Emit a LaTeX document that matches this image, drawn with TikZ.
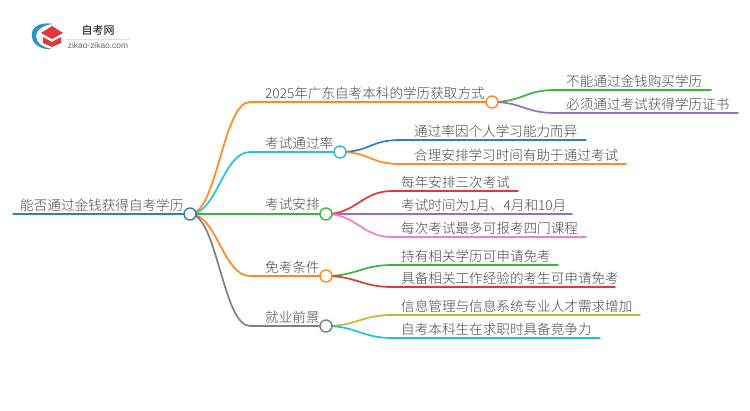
\documentclass[tikz,border=0pt]{standalone}
\usepackage{fontspec}
\setmainfont{Noto Sans CJK SC}[UprightFont=* Light,BoldFont=* Medium]
\setsansfont{Liberation Sans}
\definecolor{cblue}{HTML}{2F7FC1}
\definecolor{corange}{HTML}{FF8A1F}
\definecolor{ccyan}{HTML}{22C3D6}
\definecolor{cgreen}{HTML}{3DB43D}
\definecolor{cgray}{HTML}{808080}
\definecolor{cpurple}{HTML}{9B6BC8}
\definecolor{cred}{HTML}{E0393B}
\definecolor{cpink}{HTML}{EE82CC}
\definecolor{colive}{HTML}{BDBD2E}
\tikzset{
 x=1pt,y=-1pt,
 lbl/.style={font=\fontsize{13.6pt}{14pt}\selectfont,text=black!72,inner sep=0pt,anchor=base west},
 lnk/.style={line width=1.7pt,line cap=round},
 hub/.style={circle,draw,line width=1.4pt,fill=white,minimum size=12pt,inner sep=0pt},
}
\usetikzlibrary{calc}
\newcommand{\bez}[3]{\draw[lnk,#1] (#2) .. controls ($(#2)+(27,0)$) and ($(#3)+(-27,0)$) .. (#3);}
\begin{document}
\begin{tikzpicture}
\useasboundingbox (0,0) rectangle (750,410);
% logo
\fill[cblue!70!ccyan] (53,24) .. controls (38,21) and (30,29) .. (32,37) .. controls (33,45) and (42,50) .. (52,49) .. controls (42,47) and (36,43) .. (36,36) .. controls (36,30) and (43,25) .. cycle;
\fill[cred] (52,26) -- (63,33) -- (52,39) -- (41,33) -- cycle;
\fill[cred] (43,37) -- (52,42) -- (61,37) -- (61,43) -- (52,47) -- (43,43) -- cycle;
\node[inner sep=0pt,text=black!80] (logot) at (98,30.5) {\fontsize{11pt}{12pt}\selectfont\bfseries 自考网};
\draw[black!12,line width=.6pt] (66,39.5) -- (130,39.5);
\node[inner sep=0pt,text=black!60] (logou) at (98,45) {\sffamily\fontsize{8.4pt}{9pt}\selectfont zikao-zikao.com};
% coordinates
\coordinate (r) at (190,214);
\coordinate (rs) at (13,214);
\coordinate (a) at (492,102); \coordinate (a0) at (250,102);
\coordinate (b) at (340,152); \coordinate (b0) at (250,152);
\coordinate (c) at (326,214); \coordinate (c0) at (250,214);
\coordinate (d) at (326,276); \coordinate (d0) at (250,276);
\coordinate (e) at (326,326); \coordinate (e0) at (250,326);
% root
\draw[lnk,cblue] (rs) -- (r);
% level 1
\bez{corange}{r}{a0} \draw[lnk,corange] (a0) -- (a);
\bez{ccyan}{r}{b0} \draw[lnk,ccyan] (b0) -- (b);
\draw[lnk,cgreen] (r) -- (c);
\bez{corange}{r}{d0} \draw[lnk,corange] (d0) -- (d);
\bez{cgray}{r}{e0} \draw[lnk,cgray] (e0) -- (e);
% leaves
\foreach \p/\x/\y/\xe/\col/\nm in {
 a/555/90/711/cgreen/a1, a/555/113/738/cpurple/a2,
 b/400/140/586/cblue/b1, b/400/164/626/corange/b2,
 c/392/191/518/cred/c1, c/392/214/572/cpurple/c2, c/392/237/586/cpink/c3,
 d/392/265/558/cgreen/d1, d/392/287/615/cred/d2,
 e/392/315/640/colive/e1, e/392/338/600/ccyan/e2}{
 \coordinate (\nm s) at (\x,\y);
 \coordinate (\nm e) at (\xe,\y);
 \draw[lnk,\col] (\p) .. controls ($(\p)+(30,0)$) and ($(\nm s)+(-30,0)$) .. (\nm s) -- (\nm e);
}
% hubs
\node[hub,draw=cblue] (rn) at (r) {};
\node[hub,draw=corange] (an) at (a) {};
\node[hub,draw=ccyan] (bn) at (b) {};
\node[hub,draw=cgreen] (cn) at (c) {};
\node[hub,draw=corange] (dn) at (d) {};
\node[hub,draw=cgray] (en) at (e) {};
% labels
\node[lbl] (tr) at (20,210) {能否通过金钱获得自考学历};
\node[lbl] (ta) at (265,98) {2025年广东自考本科的学历获取方式};
\node[lbl] (tb) at (265,148) {考试通过率};
\node[lbl] (tc) at (265,209.5) {考试安排};
\node[lbl] (td) at (265,272) {免考条件};
\node[lbl] (te) at (265,322) {就业前景};
\node[lbl] (ta1) at (566,86) {不能通过金钱购买学历};
\node[lbl] (ta2) at (566,109) {必须通过考试获得学历证书};
\node[lbl] (tb1) at (414,136) {通过率因个人学习能力而异};
\node[lbl] (tb2) at (414,160) {合理安排学习时间有助于通过考试};
\node[lbl] (tc1) at (401,187) {每年安排三次考试};
\node[lbl] (tc2) at (401,210) {考试时间为1月、4月和10月};
\node[lbl] (tc3) at (401,233) {每次考试最多可报考四门课程};
\node[lbl] (td1) at (401,261) {持有相关学历可申请免考};
\node[lbl] (td2) at (401,283) {具备相关工作经验的考生可申请免考};
\node[lbl] (te1) at (401,311) {信息管理与信息系统专业人才需求增加};
\node[lbl] (te2) at (401,334) {自考本科生在求职时具备竞争力};
\end{tikzpicture}
\end{document}
